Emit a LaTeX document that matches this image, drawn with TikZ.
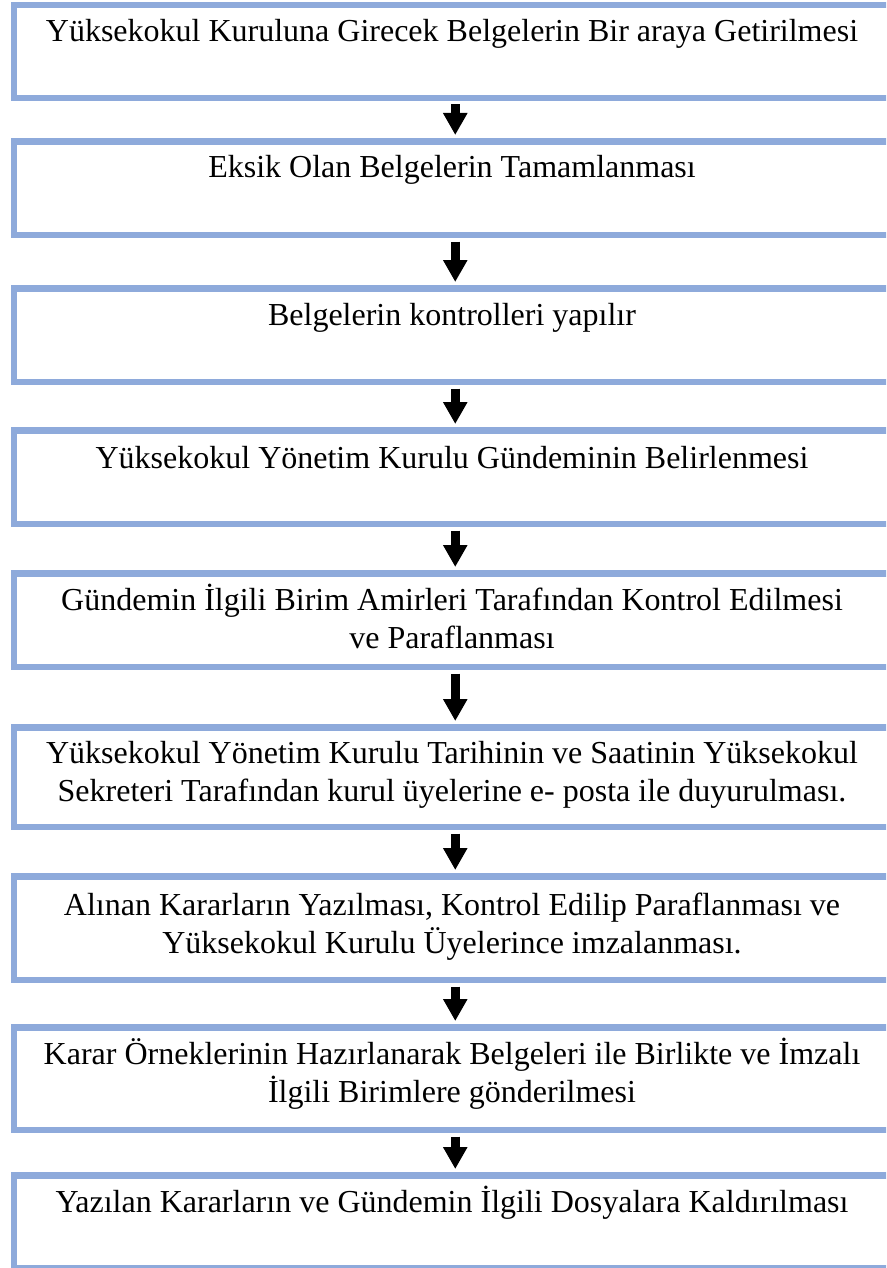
\documentclass[tikz,border=0pt]{standalone}
\usepackage{fontspec}
\setmainfont{Liberation Serif}
\usetikzlibrary{arrows.meta}
\definecolor{boxblue}{RGB}{142,170,219}

\begin{document}
\begin{tikzpicture}[x=1pt, y=-1pt, >={Triangle[width=23pt,length=22pt]},
  kutu/.style={draw=boxblue, line width=6.5pt, inner sep=0pt, minimum width=882.5pt, anchor=north west},
  yazi/.style={font=\fontsize{32}{38}\selectfont, align=center, anchor=base},
  ok/.style={->, line width=9pt, shorten <=3.25pt, shorten >=3.25pt}]
  \useasboundingbox (0,0) rectangle (886,1268);
  \clip (0,0) rectangle (886,1268);

  % kutular
  \node[kutu, minimum height=93pt] (b1) at (10.75,1.75) {};
  \node[kutu, minimum height=93.5pt] (b2) at (10.75,138.25) {};
  \node[kutu, minimum height=93.5pt] (b3) at (10.75,285.25) {};
  \node[kutu, minimum height=93.5pt] (b4) at (10.75,427.25) {};
  \node[kutu, minimum height=93.5pt] (b5) at (10.75,570.25) {};
  \node[kutu, minimum height=99.5pt] (b6) at (10.75,724.25) {};
  \node[kutu, minimum height=103.5pt] (b7) at (10.75,873.25) {};
  \node[kutu, minimum height=102.5pt] (b8) at (10.75,1024.25) {};
  \node[kutu, minimum height=92.5pt] (b9) at (10.75,1172.25) {};

  % yazilar (iki satirlilarda base son satirda)
  \node[yazi] (t1) at (452,41.5) {Yüksekokul Kuruluna Girecek Belgelerin Bir araya Getirilmesi};
  \node[yazi] (t2) at (452,178) {Eksik Olan Belgelerin Tamamlanması};
  \node[yazi] (t3) at (452,325) {Belgelerin kontrolleri yapılır};
  \node[yazi] (t4) at (452,468) {Yüksekokul Yönetim Kurulu Gündeminin Belirlenmesi};
  \node[yazi] (t5) at (452,648) {Gündemin İlgili Birim Amirleri Tarafından Kontrol Edilmesi\\ve Paraflanması};
  \node[yazi] (t6) at (452,801) {Yüksekokul Yönetim Kurulu Tarihinin ve Saatinin Yüksekokul\\Sekreteri Tarafından kurul üyelerine e- posta ile duyurulması.};
  \node[yazi] (t7) at (452,953) {Alınan Kararların Yazılması, Kontrol Edilip Paraflanması ve\\Yüksekokul Kurulu Üyelerince imzalanması.};
  \node[yazi] (t8) at (452,1102) {Karar Örneklerinin Hazırlanarak Belgeleri ile Birlikte ve İmzalı\\İlgili Birimlere gönderilmesi};
  \node[yazi] (t9) at (452,1212) {Yazılan Kararların ve Gündemin İlgili Dosyalara Kaldırılması};

  % oklar
  \foreach \i/\j in {1/2,2/3,3/4,4/5,5/6,6/7,7/8,8/9}
    \draw[ok] (b\i.south) -- (b\j.north);
\end{tikzpicture}
\end{document}
